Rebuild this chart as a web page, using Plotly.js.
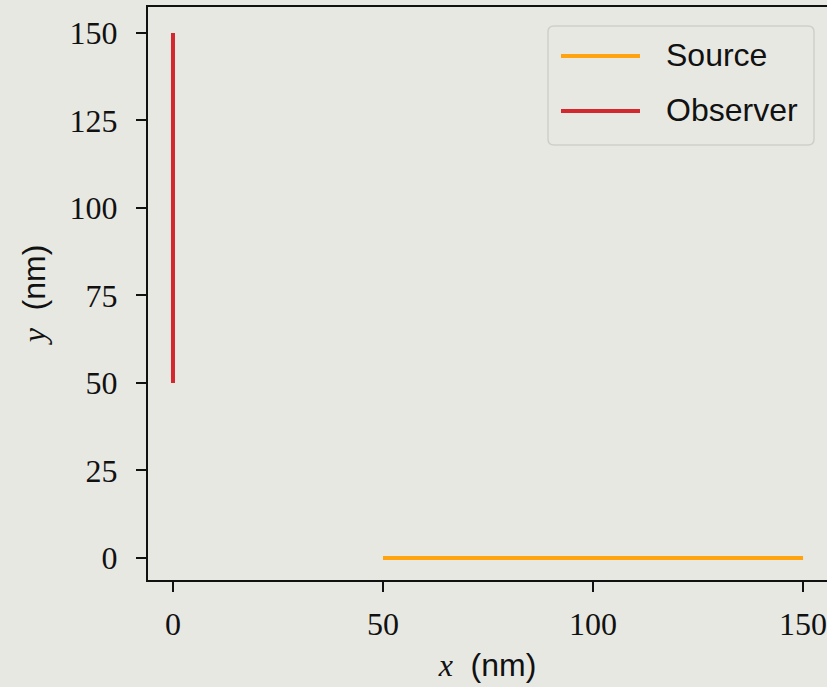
<!DOCTYPE html>
<html>
<head>
<meta charset="utf-8">
<script src="https://cdn.plot.ly/plotly-3.0.1.min.js"></script>
<style>
  html, body { margin: 0; padding: 0; background: #e8e8e3; overflow: hidden; }
  #chart { width: 827px; height: 687px; }
</style>
</head>
<body>
<div id="chart"></div>
<script>
// Segment endpoints (nm)
const sourceX = [50, 150];
const sourceY = [0, 0];
const observerX = [0, 0];
const observerY = [50, 150];

const xTickVals = [0, 50, 100, 150];
const yTickVals = [0, 25, 50, 75, 100, 125, 150];

const seriesNames = ['Source', 'Observer'];
const seriesColors = ['#ffa40f', '#d3282e'];

const bg = '#e8e8e3';
const ink = '#111111';
const serif = 'Liberation Serif, serif';
const sans = 'Liberation Sans, sans-serif';

// Plot area in pixels: left 148, right 827, top 7, bottom 580
const L = 148, R = 827, T = 7, B = 580;
const px = v => (v - L) / (R - L);
const py = v => (B - v) / (B - T);

const traces = [
  { x: sourceX, y: sourceY, mode: 'lines', name: seriesNames[0],
    line: { color: seriesColors[0], width: 4 }, showlegend: false, hoverinfo: 'skip' },
  { x: observerX, y: observerY, mode: 'lines', name: seriesNames[1],
    line: { color: seriesColors[1], width: 4 }, showlegend: false, hoverinfo: 'skip' }
];

// Legend: rounded frame, sample lines and labels
const bx0 = 548, bx1 = 814, by0 = 26, by1 = 145, r = 6;
const frame = `M ${bx0 + r},${by0} L ${bx1 - r},${by0} Q ${bx1},${by0} ${bx1},${by0 + r} ` +
  `L ${bx1},${by1 - r} Q ${bx1},${by1} ${bx1 - r},${by1} L ${bx0 + r},${by1} ` +
  `Q ${bx0},${by1} ${bx0},${by1 - r} L ${bx0},${by0 + r} Q ${bx0},${by0} ${bx0 + r},${by0} Z`;

const legendRows = [56, 111];
const shapes = seriesNames.map((n, i) => ({
  type: 'line', xref: 'paper', yref: 'paper',
  x0: px(561), x1: px(640), y0: py(legendRows[i]), y1: py(legendRows[i]),
  line: { color: seriesColors[i], width: 4 }
}));

const annotations = seriesNames.map((n, i) => ({
  xref: 'paper', yref: 'paper', x: px(664), y: py(legendRows[i] - 1),
  xanchor: 'left', yanchor: 'middle', text: n, showarrow: false,
  font: { family: sans, size: 32, color: ink }
}));

const axisCommon = {
  showgrid: false, zeroline: false, showline: true,
  linecolor: ink, linewidth: 2, ticks: 'outside', ticklen: 10, tickwidth: 2, tickcolor: ink,
  tickfont: { family: serif, size: 32, color: ink },
  ticklabeloverflow: 'allow'
};

const layout = {
  width: 827, height: 687,
  paper_bgcolor: bg, plot_bgcolor: bg,
  margin: { l: L, r: 827 - R, t: T, b: 687 - B, pad: 0 },
  showlegend: false,
  xaxis: Object.assign({}, axisCommon, {
    range: [-5.95, 155.7], tickvals: xTickVals, ticktext: xTickVals.map(String),
    mirror: true, ticklabelstandoff: 5,
    title: { text: '<i style="font-family:Liberation Serif">x</i>\u00a0 (nm)', standoff: 12,
             font: { family: sans, size: 32, color: ink } }
  }),
  yaxis: Object.assign({}, axisCommon, {
    range: [-6.3, 157.4], tickvals: yTickVals, ticktext: yTickVals.map(String),
    mirror: false, ticklabelstandoff: 12,
    title: { text: '<i style="font-family:Liberation Serif">y</i>\u00a0 (nm)', standoff: 14,
             font: { family: sans, size: 32, color: ink } }
  }),
  shapes: shapes,
  annotations: annotations
};

Plotly.newPlot('chart', traces, layout, { staticPlot: true, displayModeBar: false }).then(gd => {
  const svgs = gd.querySelectorAll('.main-svg');
  const svg = svgs[svgs.length - 1];
  const p = document.createElementNS('http://www.w3.org/2000/svg', 'path');
  p.setAttribute('d', frame);
  p.setAttribute('fill', 'none');
  p.setAttribute('stroke', '#cfcfca');
  p.setAttribute('stroke-width', '1.5');
  svg.appendChild(p);
});
</script>
</body>
</html>
